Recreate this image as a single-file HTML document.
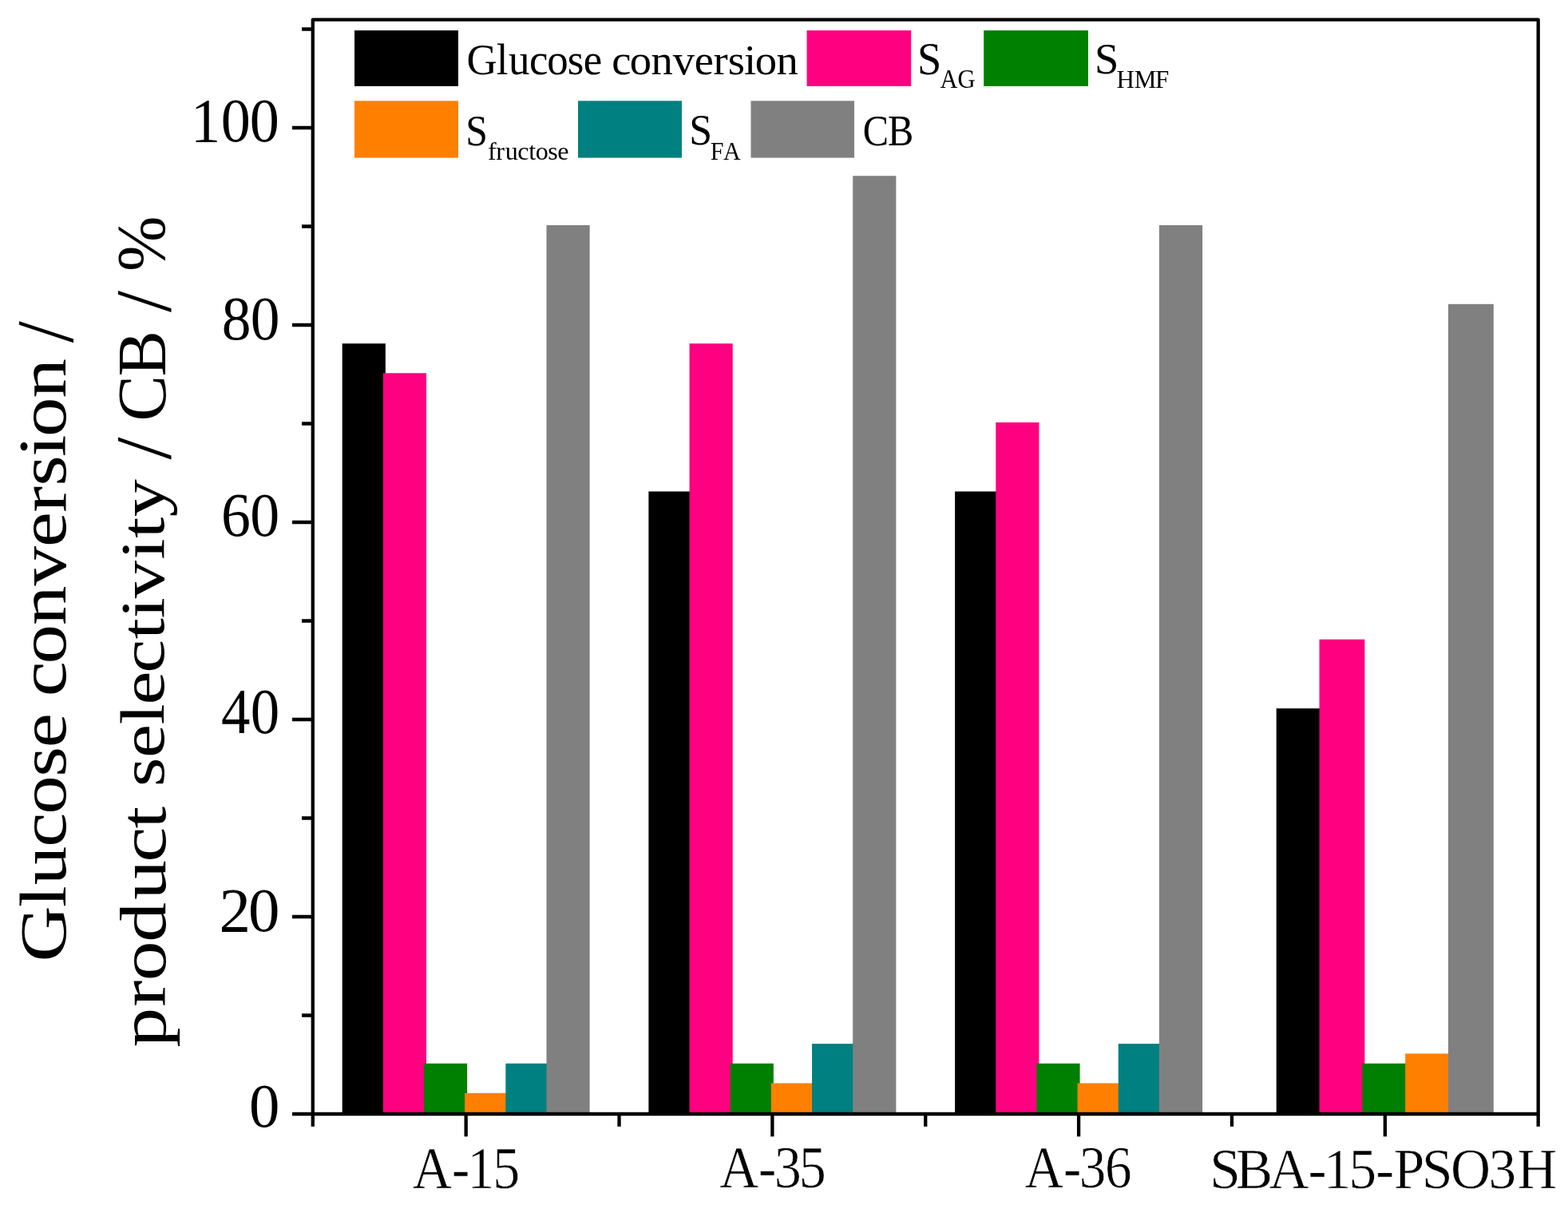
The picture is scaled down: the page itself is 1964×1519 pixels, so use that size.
<!DOCTYPE html><html><head><meta charset="utf-8"><style>html,body{margin:0;padding:0;background:#fff;overflow:hidden;}svg{display:block;filter:blur(0.5px);}text{font-family:"Liberation Serif",serif;fill:#000;}</style></head><body>
<svg width="1964" height="1519" viewBox="0 0 1964 1519">
<rect width="1964" height="1519" fill="#fff"/>
<g id="gfx">
<rect x="428.67" y="430.20" width="54.16" height="964.80" fill="#000000"/>
<rect x="479.84" y="467.25" width="54.16" height="927.75" fill="#FF0080"/>
<rect x="531.00" y="1331.75" width="54.16" height="63.25" fill="#008000"/>
<rect x="582.16" y="1368.80" width="54.16" height="26.20" fill="#FF8000"/>
<rect x="633.33" y="1331.75" width="54.16" height="63.25" fill="#008080"/>
<rect x="684.49" y="282.00" width="54.16" height="1113.00" fill="#808080"/>
<rect x="812.40" y="615.45" width="54.16" height="779.55" fill="#000000"/>
<rect x="863.56" y="430.20" width="54.16" height="964.80" fill="#FF0080"/>
<rect x="914.72" y="1331.75" width="54.16" height="63.25" fill="#008000"/>
<rect x="965.89" y="1356.45" width="54.16" height="38.55" fill="#FF8000"/>
<rect x="1017.05" y="1307.05" width="54.16" height="87.95" fill="#008080"/>
<rect x="1068.21" y="220.25" width="54.16" height="1174.75" fill="#808080"/>
<rect x="1196.12" y="615.45" width="54.16" height="779.55" fill="#000000"/>
<rect x="1247.29" y="529.00" width="54.16" height="866.00" fill="#FF0080"/>
<rect x="1298.45" y="1331.75" width="54.16" height="63.25" fill="#008000"/>
<rect x="1349.61" y="1356.45" width="54.16" height="38.55" fill="#FF8000"/>
<rect x="1400.78" y="1307.05" width="54.16" height="87.95" fill="#008080"/>
<rect x="1451.94" y="282.00" width="54.16" height="1113.00" fill="#808080"/>
<rect x="1598.70" y="887.15" width="56.82" height="507.85" fill="#000000"/>
<rect x="1652.52" y="800.70" width="56.82" height="594.30" fill="#FF0080"/>
<rect x="1706.34" y="1331.75" width="56.82" height="63.25" fill="#008000"/>
<rect x="1760.16" y="1319.40" width="56.82" height="75.60" fill="#FF8000"/>
<rect x="1813.98" y="380.80" width="56.82" height="1014.20" fill="#808080"/>
<rect x="444" y="38.1" width="130.0" height="69.8" fill="#000000"/>
<rect x="1010.6" y="38.1" width="130.6" height="69.8" fill="#FF0080"/>
<rect x="1232.2" y="38.1" width="130.8" height="69.8" fill="#008000"/>
<rect x="444" y="126.3" width="130.0" height="71.3" fill="#FF8000"/>
<rect x="724" y="126.3" width="130.0" height="71.3" fill="#008080"/>
<rect x="940.5" y="126.3" width="129.5" height="71.3" fill="#808080"/>
<path d="M366 1395.00H391.8 M366 1148.00H391.8 M366 901.00H391.8 M366 654.00H391.8 M366 407.00H391.8 M366 160.00H391.8 M378 1271.50H391.8 M378 1024.50H391.8 M378 777.50H391.8 M378 530.50H391.8 M378 283.50H391.8 M378 36.50H391.8 M583.66 1395.0V1423.2 M967.39 1395.0V1423.2 M1351.11 1395.0V1423.2 M1734.84 1395.0V1423.2 M391.80 1395.0V1410.8 M775.53 1395.0V1410.8 M1159.25 1395.0V1410.8 M1542.98 1395.0V1410.8 M1926.70 1395.0V1410.8" stroke="#000" stroke-width="4.3" fill="none"/>
<path d="M391.8 24.7H1926.7V1395.0H391.8Z" stroke="#000" stroke-width="4.3" fill="none" stroke-linejoin="round"/>
</g>
<text id="y100" transform="matrix(0.74185 0 0 0.77930 0 176.68)" x="322.06 372.93 421.64" y="0" font-size="100">100</text>
<text id="y80" transform="matrix(0.73415 0 0 0.77930 0 424.74)" x="378.51 427.23" y="0" font-size="100">80</text>
<text id="y60" transform="matrix(0.73795 0 0 0.78102 0 671.12)" x="375.29 424.46" y="0" font-size="100">60</text>
<text id="y40" transform="matrix(0.72892 0 0 0.79577 0 917.54)" x="380.04 430.29" y="0" font-size="100">40</text>
<text id="xA15" transform="matrix(0.67976 0 0 0.73876 0 1487.70)" x="760.05 832.12 860.86 908.18" y="0" font-size="100" stroke="#fff" stroke-width="0.847">A-15</text>
<text id="xA35" transform="matrix(0.68060 0 0 0.73737 0 1487.46)" x="1324.14 1395.52 1424.67 1470.47" y="0" font-size="100" stroke="#fff" stroke-width="0.847">A-35</text>
<text id="xA36" transform="matrix(0.67204 0 0 0.73486 0 1487.46)" x="1910.02 1981.90 2011.41 2059.26" y="0" font-size="100" stroke="#fff" stroke-width="0.854">A-36</text>
<text id="xSBA" transform="matrix(0.69265 0 0 0.72872 0 1487.54)" x="2187.77 2235.05 2294.93 2365.53 2393.20 2439.20 2487.74 2520.24 2571.37 2623.32 2691.88 2743.35" y="0" font-size="100" stroke="#fff" stroke-width="0.845">SBA-15-PSO3H</text>
<text id="lgS1" transform="matrix(0.54442 0 0 0.56358 0 92.63)" x="2110.36" y="0" font-size="100">S</text>
<text id="lgAG" transform="matrix(0.30591 0 0 0.33243 0 110.00)" x="3849.38 3920.97" y="0" font-size="100">AG</text>
<text id="lgS2" transform="matrix(0.54582 0 0 0.54448 0 91.92)" x="2511.64" y="0" font-size="100">S</text>
<text id="lgHMF" transform="matrix(0.31130 0 0 0.31480 0 109.85)" x="4492.40 4563.85 4648.68" y="0" font-size="100">HMF</text>
<text id="lgS3" transform="matrix(0.49620 0 0 0.54742 0 181.60)" x="1175.53" y="0" font-size="100">S</text>
<text id="lgfru" transform="matrix(0.32174 0 0 0.30639 0 199.60)" x="1899.10 1930.75 1966.89 2015.16 2058.39 2085.18 2133.03 2169.96" y="0" font-size="100">fructose</text>
<text id="lgS4" transform="matrix(0.51820 0 0 0.55653 0 181.34)" x="1665.90" y="0" font-size="100">S</text>
<text id="lgFA" transform="matrix(0.30150 0 0 0.32285 0 199.91)" x="2950.73 3005.04" y="0" font-size="100">FA</text>
<text id="lgCB" transform="matrix(0.48424 0 0 0.55813 0 181.63)" x="2231.74 2296.53" y="0" font-size="100">CB</text>
<text id="y20" transform="matrix(0.78891 0 0 0.78738 0 1165.60)" x="347.91 394.37" y="0" font-size="100">20</text>
<text id="y0" transform="matrix(0.76824 0 0 0.77814 0 1411.18)" x="406.22" y="0" font-size="100">0</text>
<text id="lgG1" transform="matrix(0.52969 0 0 0.54099 0 92.85)" x="1103.27 1173.69 1202.49 1251.46 1293.47 1341.97 1379.51" y="0" font-size="100">Glucose</text>
<text id="lgG2" transform="matrix(0.54622 0 0 0.53459 0 92.52)" x="1403.02 1444.21 1493.10 1543.08 1592.10 1635.84 1669.13 1706.37 1731.66 1780.55" y="0" font-size="100">conversion</text>
<text id="a1" transform="rotate(-90) matrix(0.97127 0 0 0.81905 0 82.40)" x="-1240.23 -1169.82 -1141.01 -1092.04 -1050.03 -1001.53 -963.99" y="0" font-size="100">Glucose</text>
<text id="a2" transform="rotate(-90) matrix(0.98989 0 0 0.85504 0 82.27)" x="-881.12 -839.94 -791.04 -741.06 -692.04 -648.30 -615.01 -577.78 -552.48 -503.59" y="0" font-size="100">conversion</text>
<text id="a3" transform="rotate(-90) matrix(0.97397 0 0 1.02088 0 91.38)" x="-440.65" y="0" font-size="100">/</text>
<text id="b1" transform="rotate(-90) matrix(0.99493 0 0 0.82829 0 206.84)" x="-1318.29 -1267.15 -1234.48 -1185.80 -1132.51 -1085.29 -1042.85" y="0" font-size="100">product</text>
<text id="b2" transform="rotate(-90) matrix(0.94434 0 0 0.79164 0 205.07)" x="-1043.45 -1004.94 -960.92 -934.50 -892.42 -847.81 -820.13 -793.30 -742.17 -713.77 -685.44" y="0" font-size="100">selectivity</text>
<text id="b3" transform="rotate(-90) matrix(1.00780 0 0 1.00184 0 213.41)" x="-570.98" y="0" font-size="100">/</text>
<text id="b4" transform="rotate(-90) matrix(0.86382 0 0 0.86814 0 206.85)" x="-610.64 -545.85" y="0" font-size="100">CB</text>
<text id="b5" transform="rotate(-90) matrix(0.97181 0 0 1.00184 0 213.41)" x="-402.34" y="0" font-size="100">/</text>
<text id="b6" transform="rotate(-90) matrix(0.82809 0 0 0.87409 0 206.18)" x="-410.23" y="0" font-size="100">%</text>
</svg></body></html>
